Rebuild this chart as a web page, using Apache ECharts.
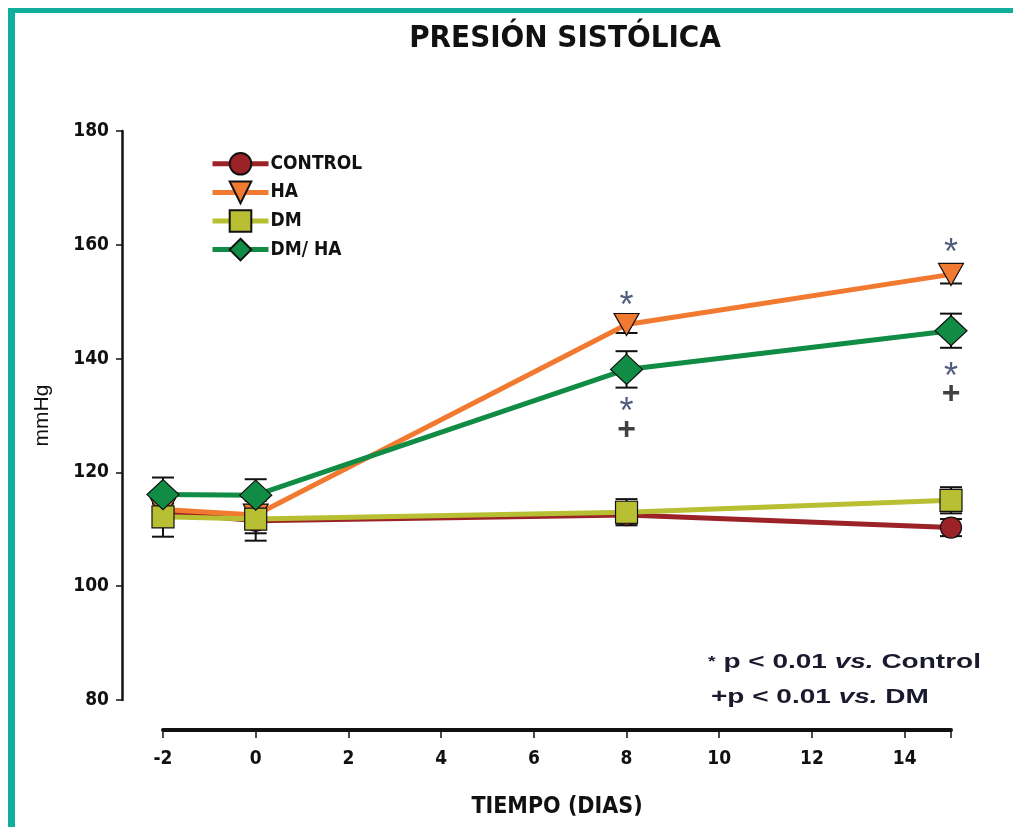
<!DOCTYPE html>
<html>
<head>
<meta charset="utf-8">
<script src="https://cdn.jsdelivr.net/npm/echarts@6/dist/echarts.min.js"></script>
<style>
html,body{margin:0;padding:0;background:#fff;}
#chart{width:1013px;height:827px;}
</style>
</head>
<body>
<div id="chart"></div>
<script>
// ---- data ----
const days = [-2, 0, 8, 15];
const seriesNames = ['CONTROL', 'HA', 'DM', 'DM/ HA'];
const controlMean = [113, 111.5, 112.5, 110.3];
const controlErr  = [2, 3.5, 1.5, 1.5];
const haMean = [113.5, 112.5, 146, 154.8];
const haErr  = [1, 1, 1.5, 1.6];
const dmMean = [112.2, 111.8, 113, 115.1];
const dmErr  = [3.5, 2.5, 2.3, 2.3];
const dmhaMean = [116.1, 116, 138.1, 144.9];
const dmhaErr  = [3, 2.8, 3.2, 3];
const starMarks = [[8, 150.5], [15, 159.8], [8, 131.8], [15, 138]];
const plusMarks = [[8, 127.4], [15, 133.8]];
const yTicks = {min: 80, max: 180, interval: 20};
const xTicks = {min: -2, max: 15, interval: 2};

const colors = ['#9B2226', '#F27A30', '#B8BF32', '#108C45'];
const FONT = "'Liberation Sans Narrow','DejaVu Sans Condensed','Liberation Sans',Arial,sans-serif";
const SANS = "'Liberation Sans',Arial,sans-serif";

function pairs(mean){ return days.map((d,i)=>[d, mean[i]]); }
function errData(mean, err){ return days.map((d,i)=>[d, mean[i]-err[i], mean[i]+err[i]]); }

function errorSeries(mean, err){
  return {
    type: 'custom',
    z: 1,
    silent: true,
    renderItem: function(params, api){
      const x = api.value(0);
      const lo = api.coord([x, api.value(1)]);
      const hi = api.coord([x, api.value(2)]);
      const w = 11;
      const st = {stroke:'#111', lineWidth:2, fill:null};
      return {type:'group', children:[
        {type:'line', shape:{x1:lo[0],y1:lo[1],x2:hi[0],y2:hi[1]}, style:st},
        {type:'line', shape:{x1:lo[0]-w,y1:lo[1],x2:lo[0]+w,y2:lo[1]}, style:st},
        {type:'line', shape:{x1:hi[0]-w,y1:hi[1],x2:hi[0]+w,y2:hi[1]}, style:st}
      ]};
    },
    encode:{x:0, y:[1,2]},
    data: errData(mean, err)
  };
}

function lineSeries(name, mean, color, symbol, size, rotate){
  return {
    name: name, type:'line', z: 3,
    data: pairs(mean),
    symbol: symbol, symbolSize: size, symbolRotate: rotate || 0,
    showAllSymbol: true,
    lineStyle:{color: color, width: 5},
    itemStyle:{color: color, borderColor:'#111', borderWidth:1.2},
    emphasis:{disabled:true},
    animation:false
  };
}

const chart = echarts.init(document.getElementById('chart'), null, {renderer:'canvas'});
const option = {
  animation:false,
  backgroundColor:'#fff',
  title:{
    text:'PRESIÓN SISTÓLICA',
    left: 560, top: 18, textAlign:'center',
    textStyle:{fontFamily:FONT, fontWeight:'bold', fontSize:31, color:'#111'}
  },
  legend:{
    orient:'vertical', left: 205, top: 147,
    itemWidth: 56, itemHeight: 27, itemGap: 5,
    data: seriesNames,
    lineStyle:{width:5},
    textStyle:{fontFamily:FONT, fontWeight:'bold', fontSize:19, color:'#111', padding:[0,0,0,-3]}
  },
  grid:{left:163, right:62, top:131, bottom:127, containLabel:false, outerBoundsMode:'none'},
  xAxis:{
    type:'value', min:xTicks.min, max:xTicks.max, interval:xTicks.interval,
    offset: 30,
    name:'TIEMPO (DIAS)', nameLocation:'middle', nameGap: 66,
    nameTextStyle:{fontFamily:FONT, fontWeight:'bold', fontSize:23, color:'#111'},
    axisLine:{show:true, onZero:false, lineStyle:{color:'#111', width:4}},
    axisTick:{show:true, length:8, lineStyle:{color:'#111', width:1.5}},
    axisLabel:{fontFamily:FONT, fontWeight:'bold', fontSize:19, color:'#111', margin:20,
      formatter: v => (v > 14 ? '' : String(v))},
    splitLine:{show:false}
  },
  yAxis:{
    type:'value', min:yTicks.min, max:yTicks.max, interval:yTicks.interval,
    offset: 41,
    name:'mmHg', nameLocation:'middle', nameGap: 69, nameRotate: 90,
    nameTextStyle:{fontFamily:SANS, fontSize:21, color:'#111'},
    axisLine:{show:true, onZero:false, lineStyle:{color:'#111', width:2.5}},
    axisTick:{show:true, length:6, lineStyle:{color:'#111', width:1.5}},
    axisLabel:{fontFamily:FONT, fontWeight:'bold', fontSize:19, color:'#111', margin:13},
    splitLine:{show:false}
  },
  series:[
    errorSeries(controlMean, controlErr),
    errorSeries(haMean, haErr),
    errorSeries(dmMean, dmErr),
    errorSeries(dmhaMean, dmhaErr),
    lineSeries(seriesNames[0], controlMean, colors[0], 'circle', 21),
    lineSeries(seriesNames[1], haMean, colors[1], 'triangle', [25,22], 180),
    lineSeries(seriesNames[2], dmMean, colors[2], 'rect', 22),
    lineSeries(seriesNames[3], dmhaMean, colors[3], 'diamond', [32,30]),
    {
      type:'scatter', z:5, symbolSize:0, silent:true,
      data: starMarks,
      label:{show:true, position:'inside', formatter:'*', offset:[0,8],
        fontFamily:SANS, fontSize:36, color:'#25345F'}
    },
    {
      type:'scatter', z:5, symbolSize:0, silent:true,
      data: plusMarks,
      label:{show:true, position:'inside', formatter:'+',
        fontFamily:SANS, fontWeight:'bold', fontSize:32, color:'#111'}
    }
  ],
  graphic:[
    {type:'rect', shape:{x:8, y:8, width:1013, height:5}, style:{fill:'#12AE9D'}, z:10},
    {type:'rect', shape:{x:8, y:8, width:7, height:830}, style:{fill:'#12AE9D'}, z:10},
    {type:'text', x:708, y:652, scaleX:1.4, style:{
      text:'{s|*} p < 0.01 {i|vs.} Control',
      fontFamily:SANS, fontWeight:'bold', fontSize:20, fill:'#1a1a2e',
      rich:{s:{fontSize:14, fontWeight:'bold', fontFamily:SANS, fill:'#1a1a2e'},
            i:{fontStyle:'italic', fontWeight:'bold', fontSize:20, fontFamily:SANS, fill:'#1a1a2e'}}
    }},
    {type:'text', x:711, y:687, scaleX:1.4, style:{
      text:'+p < 0.01 {i|vs.} DM',
      fontFamily:SANS, fontWeight:'bold', fontSize:20, fill:'#1a1a2e',
      rich:{i:{fontStyle:'italic', fontWeight:'bold', fontSize:20, fontFamily:SANS, fill:'#1a1a2e'}}
    }}
  ]
};
chart.setOption(option);
</script>
</body>
</html>
